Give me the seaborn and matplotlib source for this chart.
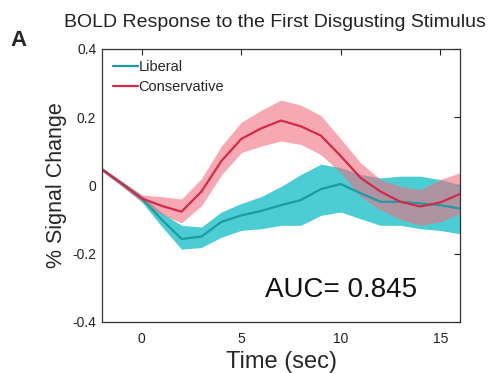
import numpy as np
import pandas as pd
import seaborn as sns
import matplotlib.pyplot as plt

# Values (time in sec, % signal change)
time = [-2, -1, 0, 1, 2, 3, 4, 5, 6, 7, 8, 9, 10, 11, 12, 13, 14, 15, 16]

liberal = [0.047, 0.005, -0.038, -0.100, -0.157, -0.150, -0.107, -0.088, -0.075, -0.058,
           -0.043, -0.011, 0.004, -0.023, -0.048, -0.048, -0.053, -0.058, -0.068]
liberal_hi = [0.052, 0.012, -0.028, -0.080, -0.117, -0.122, -0.078, -0.053, -0.033, -0.003,
              0.032, 0.062, 0.052, 0.032, 0.022, 0.027, 0.027, 0.017, 0.002]
liberal_lo = [0.042, -0.002, -0.048, -0.120, -0.187, -0.182, -0.152, -0.132, -0.127, -0.117,
              -0.117, -0.088, -0.078, -0.098, -0.117, -0.117, -0.127, -0.132, -0.142]

conservative = [0.047, 0.005, -0.038, -0.060, -0.077, -0.018, 0.071, 0.136, 0.167, 0.190,
                0.173, 0.146, 0.086, 0.022, -0.018, -0.048, -0.062, -0.050, -0.025]
conservative_hi = [0.052, 0.012, -0.028, -0.033, -0.040, 0.020, 0.115, 0.185, 0.220, 0.250,
                   0.235, 0.205, 0.136, 0.066, 0.017, -0.003, -0.013, 0.017, 0.037]
conservative_lo = [0.042, -0.002, -0.048, -0.085, -0.110, -0.060, 0.030, 0.096, 0.115, 0.130,
                   0.120, 0.090, 0.037, -0.033, -0.072, -0.100, -0.117, -0.107, -0.082]

df = pd.DataFrame({
    "Time": time * 2,
    "Signal": liberal + conservative,
    "Group": ["Liberal"] * len(time) + ["Conservative"] * len(time),
})

sns.set_style("white")
plt.rcParams["font.family"] = ["Liberation Sans", "DejaVu Sans"]

fig = plt.figure(figsize=(4.9, 3.73), dpi=100)
ax = fig.add_axes([0.208, 0.137, 0.731, 0.732])

# shaded error bands
ax.fill_between(time, liberal_lo, liberal_hi, color="#2cc4cc", alpha=0.85, lw=0)
ax.fill_between(time, conservative_lo, conservative_hi, color="#f0707f", alpha=0.6, lw=0)

sns.lineplot(data=df, x="Time", y="Signal", hue="Group",
             palette={"Liberal": "#1e9aa2", "Conservative": "#d42a45"},
             lw=1.6, ax=ax)

ax.set_xlim(-2, 16)
ax.set_ylim(-0.4, 0.4)
ax.set_xticks([0, 5, 10, 15])
ax.set_yticks([-0.4, -0.2, 0, 0.2, 0.4])
ax.set_yticklabels(["-0.4", "-0.2", "0", "0.2", "0.4"])
ax.tick_params(direction="in", length=4, width=0.8, top=True, right=True,
               labelsize=10, colors="#222222")
ax.tick_params(axis="x", pad=7)
ax.tick_params(axis="y", pad=4)
for s in ax.spines.values():
    s.set_color("#333333")
    s.set_linewidth(0.9)

ax.set_xlabel("Time (sec)", fontsize=17, labelpad=4)
ax.set_ylabel("% Signal Change", fontsize=15.5, labelpad=4)

leg = ax.legend(loc="upper left", frameon=False, fontsize=10.5, handlelength=1.7,
                handletextpad=0.05, borderaxespad=0.35, labelspacing=0.45)

ax.text(0.455, 0.117, "AUC= 0.845", transform=ax.transAxes, fontsize=20,
        color="#111111", va="center")

fig.text(0.561, 0.94, "BOLD Response to the First Disgusting Stimulus",
         ha="center", va="center", fontsize=14, color="#222222")
fig.text(0.022, 0.892, "A", ha="left", va="center", fontsize=16, fontweight="bold")

plt.savefig("out.png", dpi=100)
